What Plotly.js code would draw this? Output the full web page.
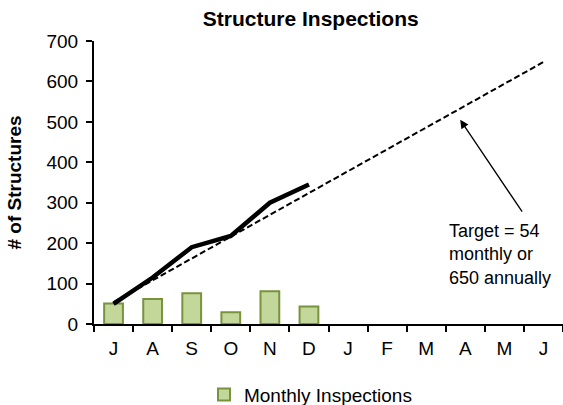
<!DOCTYPE html>
<html>
<head>
<meta charset="utf-8">
<script src="https://cdn.plot.ly/plotly-3.0.1.min.js"></script>
<style>html,body{margin:0;padding:0;background:#fff;}#chart{width:563px;height:405px;}</style>
</head>
<body>
<div id="chart"></div>
<script>
const months = ['Jul','Aug','Sep','Oct','Nov','Dec','Jan','Feb','Mar','Apr','May','Jun'];
const monthLetters = ['J','A','S','O','N','D','J','F','M','A','M','J'];
const monthlyInspections = [51, 62, 76, 29, 81, 43];
const cumulativeInspections = [50, 115, 190, 218, 300, 345];
const targetCumulative = [54, 108, 162, 216, 270, 324, 378, 432, 486, 540, 594, 648];

const font = 'Arial, "Liberation Sans", sans-serif';

const traces = [
  {
    type: 'bar', name: 'Monthly Inspections',
    x: months.slice(0, monthlyInspections.length), y: monthlyInspections,
    width: 0.48,
    marker: {color: '#c4d79b', line: {color: '#77933c', width: 2}},
    hoverinfo: 'skip'
  },
  {
    type: 'scatter', mode: 'lines', name: 'Target',
    x: months, y: targetCumulative, showlegend: false,
    line: {color: '#000', width: 2, dash: '6px,3px'}
  },
  {
    type: 'scatter', mode: 'lines', name: 'Cumulative',
    x: months.slice(0, cumulativeInspections.length), y: cumulativeInspections, showlegend: false,
    line: {color: '#000', width: 4.5}
  }
];

const layout = {
  width: 563, height: 405,
  margin: {l: 94, r: 0, t: 41, b: 81, autoexpand: false},
  paper_bgcolor: '#fff', plot_bgcolor: '#fff',
  font: {family: font, size: 19, color: '#000'},
  title: {text: '<b>Structure Inspections</b>', font: {family: font, size: 21, color: '#000'}, x: 0.552, xanchor: 'center', y: 0.955, yanchor: 'middle'},
  xaxis: {
    type: 'category', categoryorder: 'array', categoryarray: months,
    tickmode: 'array', tickvals: months, ticktext: monthLetters,
    tickson: 'boundaries', ticks: 'outside', ticklen: 6, tickcolor: '#000', tickwidth: 2,
    ticklabelstandoff: 6,
    showline: true, linecolor: '#000', linewidth: 2,
    showgrid: false, zeroline: false, range: [-0.5, 11.5],
    tickfont: {size: 19}
  },
  yaxis: {
    range: [0, 700], tickvals: [0,100,200,300,400,500,600,700],
    ticks: 'outside', ticklen: 6, tickcolor: '#000', tickwidth: 2,
    ticklabelstandoff: 4,
    showline: true, linecolor: '#000', linewidth: 2,
    showgrid: false, zeroline: false,
    tickfont: {size: 19},
    title: {text: '<b># of Structures</b>', font: {family: font, size: 19}, standoff: 20}
  },
  showlegend: true,
  legend: {orientation: 'h', x: 0.2345, xanchor: 'left', y: -0.25, yanchor: 'middle', font: {size: 19}, itemwidth: 30},
  annotations: [
    {
      x: 8.87, y: 505, xref: 'x', yref: 'y',
      ax: 10.48, ay: 274, axref: 'x', ayref: 'y',
      showarrow: true, arrowhead: 2, arrowsize: 1.3, arrowwidth: 1.3, arrowcolor: '#000',
      text: ''
    },
    {
      x: 8.525, y: 260, xref: 'x', yref: 'y', xanchor: 'left', yanchor: 'top',
      showarrow: false, align: 'left',
      text: 'Target = 54<br>monthly or<br>650 annually',
      font: {size: 18}
    }
  ]
};

Plotly.newPlot('chart', traces, layout, {displayModeBar: false, staticPlot: true});
</script>
</body>
</html>
